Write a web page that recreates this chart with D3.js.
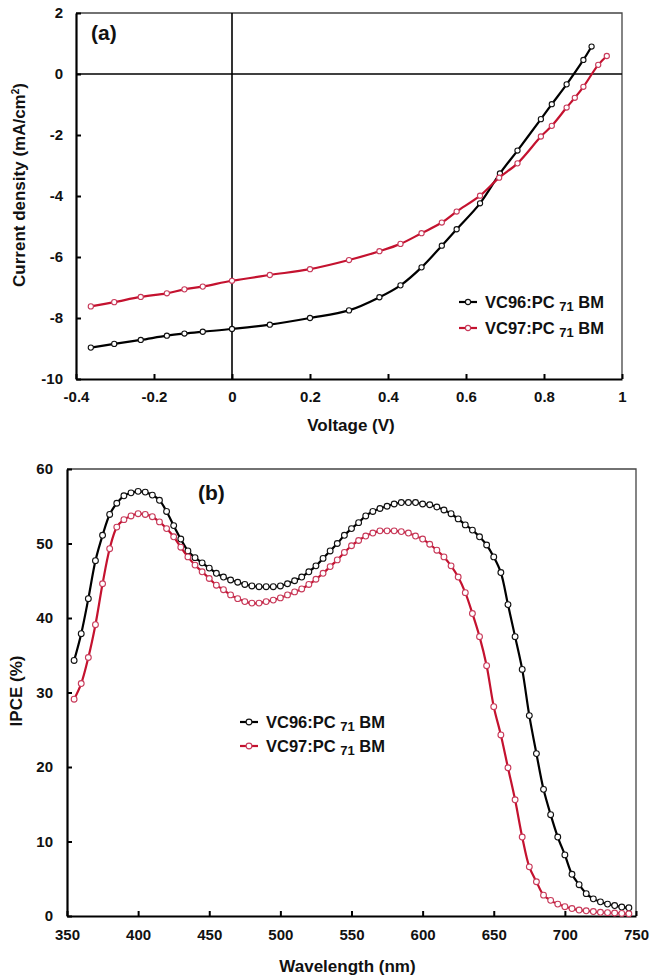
<!DOCTYPE html>
<html>
<head>
<meta charset="utf-8">
<script src="https://cdn.jsdelivr.net/npm/d3@7"></script>
<style>
  html, body { margin: 0; padding: 0; background: #fff; }
  svg { display: block; }
  text { font-family: "Liberation Sans", Arial, sans-serif; font-weight: bold; fill: #111; }
</style>
</head>
<body>
<svg id="chart" width="651" height="979"></svg>
<script>
// ---------- Data: panel (a) J-V curves ----------
const seriesNames = ["VC96:PC", "VC97:PC"];
const jvVoltageVC96 = [-0.362, -0.302, -0.234, -0.167, -0.122, -0.075, 0, 0.097, 0.2, 0.3, 0.378, 0.432, 0.486, 0.538, 0.576, 0.636, 0.687, 0.732, 0.792, 0.82, 0.858, 0.901, 0.922];
const jvCurrentVC96 = [-8.97, -8.85, -8.72, -8.58, -8.51, -8.45, -8.36, -8.22, -8.0, -7.75, -7.32, -6.93, -6.34, -5.63, -5.09, -4.24, -3.26, -2.51, -1.48, -0.99, -0.34, 0.46, 0.90];
const jvVoltageVC97 = [-0.362, -0.302, -0.234, -0.167, -0.122, -0.075, 0, 0.097, 0.2, 0.3, 0.378, 0.432, 0.486, 0.538, 0.576, 0.636, 0.685, 0.732, 0.792, 0.82, 0.858, 0.879, 0.901, 0.939, 0.961];
const jvCurrentVC97 = [-7.62, -7.48, -7.31, -7.19, -7.06, -6.97, -6.78, -6.59, -6.40, -6.10, -5.81, -5.57, -5.22, -4.87, -4.51, -3.99, -3.40, -2.93, -2.05, -1.70, -1.10, -0.78, -0.42, 0.30, 0.59];
const voltageTicks = [-0.4, -0.2, 0, 0.2, 0.4, 0.6, 0.8, 1];
const currentTicks = [-10, -8, -6, -4, -2, 0, 2];

// ---------- Data: panel (b) IPCE spectra ----------
const wavelengths = [355,360,365,370,375,380,385,390,395,400,405,410,415,420,425,430,435,440,445,450,455,460,465,470,475,480,485,490,495,500,505,510,515,520,525,530,535,540,545,550,555,560,565,570,575,580,585,590,595,600,605,610,615,620,625,630,635,640,645,650,655,660,665,670,675,680,685,690,695,700,705,710,715,720,725,730,735,740,745];
const ipceVC96 = [34.3,37.9,42.6,47.7,51.1,53.9,55.4,56.4,56.8,57.0,56.9,56.5,55.8,54.3,52.4,50.6,49.0,48.1,47.4,46.7,46.0,45.5,45.1,44.8,44.5,44.3,44.2,44.2,44.2,44.3,44.6,45.0,45.5,46.2,47.0,48.0,49.0,50.0,51.1,52.0,52.8,53.7,54.3,54.7,55.0,55.3,55.5,55.5,55.5,55.3,55.2,54.9,54.5,54.0,53.3,52.5,51.8,50.9,49.8,48.2,46.1,41.8,37.5,33.1,26.9,21.8,17.0,13.6,10.6,8.2,5.6,4.2,3.0,2.3,1.9,1.6,1.4,1.2,1.1];
const ipceVC97 = [29.1,31.2,34.7,39.1,44.6,49.3,52.2,53.2,53.7,54.0,53.9,53.6,52.9,52.0,50.9,49.5,48.2,47.1,46.2,45.3,44.4,43.8,43.1,42.6,42.2,42.0,42.0,42.2,42.4,42.7,43.1,43.5,43.9,44.5,45.2,46.0,46.9,47.8,48.8,49.7,50.4,51.0,51.4,51.7,51.7,51.7,51.6,51.4,51.0,50.6,49.9,49.1,48.2,47.0,45.5,43.4,40.6,37.5,33.6,28.1,24.3,19.9,15.6,10.6,6.6,4.6,2.8,2.1,1.6,1.25,1.0,0.8,0.7,0.6,0.5,0.45,0.4,0.35,0.3];
const wavelengthTicks = [350, 400, 450, 500, 550, 600, 650, 700, 750];
const ipceTicks = [0, 10, 20, 30, 40, 50, 60];

const colors = ["#000000", "#c4122f"];

const svg = d3.select("#chart");

function drawPanel(cfg) {
  const g = svg.append("g");
  const x = d3.scaleLinear().domain(cfg.xDomain).range([cfg.left, cfg.right]);
  const y = d3.scaleLinear().domain(cfg.yDomain).range([cfg.bottom, cfg.top]);

  // top & right frame (thin gray)
  g.append("path")
    .attr("d", `M${cfg.left},${cfg.top}H${cfg.right}V${cfg.bottom}`)
    .attr("fill", "none").attr("stroke", "#444").attr("stroke-width", 1.3);

  // axes
  const xAxis = d3.axisBottom(x).tickValues(cfg.xTicks).tickSizeInner(-5).tickSizeOuter(0)
    .tickPadding(cfg.xPad).tickFormat(d => d3.format("")(+d.toFixed(2)).replace("−", "-"));
  const yAxis = d3.axisLeft(y).tickValues(cfg.yTicks).tickSizeInner(-5).tickSizeOuter(0)
    .tickPadding(cfg.yPad).tickFormat(d => String(d));

  const gx = g.append("g").attr("transform", `translate(0,${cfg.bottom})`).call(xAxis);
  const gy = g.append("g").attr("transform", `translate(${cfg.left},0)`).call(yAxis);
  [gx, gy].forEach(a => {
    a.select(".domain").attr("stroke", "#000").attr("stroke-width", 2.2);
    a.selectAll(".tick line").attr("stroke", "#000").attr("stroke-width", 2);
    a.selectAll(".tick text").attr("font-size", 15).attr("font-family", '"Liberation Sans", Arial, sans-serif')
      .attr("font-weight", "bold").attr("fill", "#111");
  });

  if (cfg.zeroLines) {
    g.append("line").attr("x1", cfg.left).attr("x2", cfg.right).attr("y1", y(0)).attr("y2", y(0))
      .attr("stroke", "#000").attr("stroke-width", 1.6);
    g.append("line").attr("x1", x(0)).attr("x2", x(0)).attr("y1", cfg.top).attr("y2", cfg.bottom)
      .attr("stroke", "#000").attr("stroke-width", 1.6);
  }

  const line = d3.line().x(d => x(d[0])).y(d => y(d[1])).curve(d3.curveCatmullRom.alpha(0.5));
  cfg.series.forEach((s, i) => {
    const pts = s.xs.map((v, k) => [v, s.ys[k]]);
    g.append("path").datum(pts).attr("d", line).attr("fill", "none")
      .attr("stroke", colors[i]).attr("stroke-width", 2.2);
    g.selectAll(null).data(pts).enter().append("circle")
      .attr("cx", d => x(d[0])).attr("cy", d => y(d[1])).attr("r", cfg.r)
      .attr("fill", "#fff").attr("stroke", i === 0 ? "#111" : "#c83a5a").attr("stroke-width", 1.1);
  });

  // panel label
  g.append("text").attr("x", cfg.labelX).attr("y", cfg.labelY).attr("font-size", 21).text(cfg.label);

  // axis titles
  g.append("text").attr("x", (cfg.left + cfg.right) / 2 + cfg.xTitleShift).attr("y", cfg.xTitleY)
    .attr("text-anchor", "middle").attr("font-size", 17).text(cfg.xTitle);
  const yt = g.append("text").attr("transform", `translate(${cfg.yTitleX},${cfg.yTitleY}) rotate(-90)`)
    .attr("text-anchor", "middle").attr("font-size", 17);
  cfg.yTitle(yt);

  // legend
  cfg.series.forEach((s, i) => {
    const ly = cfg.legendY + i * cfg.legendGap;
    g.append("line").attr("x1", cfg.legendX).attr("x2", cfg.legendX + 18).attr("y1", ly).attr("y2", ly)
      .attr("stroke", colors[i]).attr("stroke-width", 2.2);
    g.append("circle").attr("cx", cfg.legendX + 9).attr("cy", ly).attr("r", cfg.r)
      .attr("fill", "#fff").attr("stroke", i === 0 ? "#111" : "#c83a5a").attr("stroke-width", 1.1);
    const t = g.append("text").attr("x", cfg.legendX + 26).attr("y", ly + 6).attr("font-size", 16.5);
    t.append("tspan").text(seriesNames[i] + " ");
    t.append("tspan").attr("font-size", 13).attr("dy", 3).text("71");
    t.append("tspan").attr("dy", -3).text(" BM");
  });
}

drawPanel({
  xDomain: [-0.4, 1], yDomain: [-10, 2], left: 76, right: 622, top: 13, bottom: 379,
  xTicks: voltageTicks, yTicks: currentTicks, xPad: 12, yPad: 13, zeroLines: true, r: 2.6,
  series: [{xs: jvVoltageVC96, ys: jvCurrentVC96}, {xs: jvVoltageVC97, ys: jvCurrentVC97}],
  label: "(a)", labelX: 91, labelY: 40,
  xTitle: "Voltage (V)", xTitleY: 431, xTitleShift: 2,
  yTitleX: 25, yTitleY: 185,
  yTitle: t => { t.append("tspan").text("Current density (mA/cm");
                 t.append("tspan").attr("font-size", 10).attr("dy", -6).text("2");
                 t.append("tspan").attr("dy", 6).text(")"); },
  legendX: 459, legendY: 302, legendGap: 26
});

drawPanel({
  xDomain: [350, 750], yDomain: [0, 60], left: 67, right: 636, top: 469, bottom: 916,
  xTicks: wavelengthTicks, yTicks: ipceTicks, xPad: 13, yPad: 14, zeroLines: false, r: 2.9,
  series: [{xs: wavelengths, ys: ipceVC96}, {xs: wavelengths, ys: ipceVC97}],
  label: "(b)", labelX: 198, labelY: 500,
  xTitle: "Wavelength (nm)", xTitleY: 972, xTitleShift: -4,
  yTitleX: 22, yTitleY: 691,
  yTitle: t => { t.text("IPCE (%)"); },
  legendX: 240, legendY: 722, legendGap: 24
});
</script>
</body>
</html>
